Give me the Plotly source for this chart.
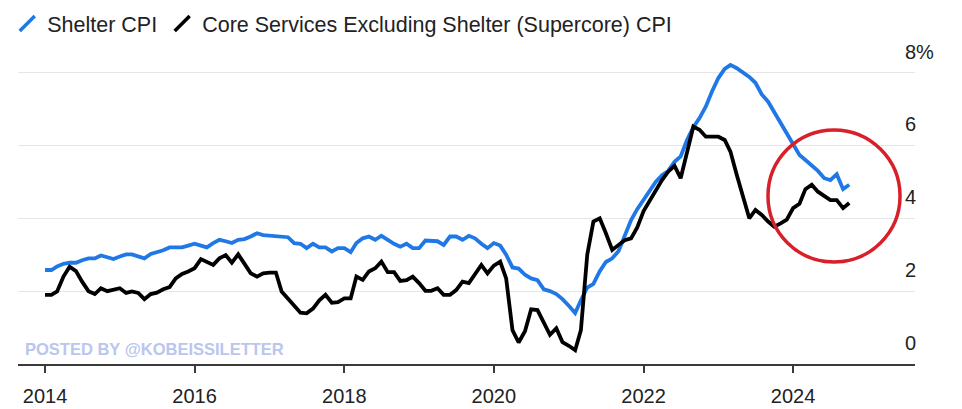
import pandas as pd
import plotly.graph_objects as go

# Monthly observations, Jan 2014 - Oct 2024
months = pd.date_range("2014-01-01", "2024-10-01", freq="MS")

shelter_cpi = [
    2.58, 2.58, 2.68, 2.75, 2.78, 2.78, 2.85, 2.90, 2.90, 2.98, 2.93, 2.88,
    2.95, 3.01, 3.01, 2.95, 2.90, 3.02, 3.07, 3.12, 3.20, 3.20, 3.20, 3.25,
    3.30, 3.25, 3.20, 3.32, 3.41, 3.37, 3.32, 3.41, 3.43, 3.50, 3.59, 3.54,
    3.52, 3.50, 3.50, 3.48, 3.32, 3.30, 3.18, 3.30, 3.20, 3.20, 3.09, 3.18,
    3.18, 3.07, 3.32, 3.45, 3.50, 3.41, 3.52, 3.40, 3.30, 3.22, 3.30, 3.18,
    3.18, 3.39, 3.39, 3.37, 3.27, 3.50, 3.50, 3.41, 3.52, 3.45, 3.30, 3.18,
    3.32, 3.25, 3.00, 2.65, 2.62, 2.45, 2.35, 2.30, 2.05, 2.00, 1.92, 1.78,
    1.60, 1.40, 1.75, 2.10, 2.20, 2.55, 2.80, 2.90, 3.10, 3.50, 3.95, 4.25,
    4.50, 4.75, 5.00, 5.18, 5.30, 5.55, 5.70, 6.15, 6.50, 6.75, 7.07, 7.48,
    7.85, 8.10, 8.21, 8.12, 8.00, 7.88, 7.72, 7.40, 7.20, 6.92, 6.65, 6.33,
    6.05, 5.74, 5.60, 5.46, 5.30, 5.10, 5.05, 5.21, 4.80, 4.92,
]

supercore_cpi = [
    1.90, 1.90, 1.99, 2.40, 2.67, 2.55, 2.26, 2.00, 1.92, 2.08, 2.00, 2.05,
    2.08, 1.95, 1.99, 1.95, 1.78, 1.92, 1.96, 2.05, 2.11, 2.35, 2.47, 2.54,
    2.63, 2.88, 2.80, 2.72, 2.90, 2.99, 2.78, 3.01, 2.75, 2.49, 2.40, 2.49,
    2.51, 2.51, 1.99, 1.80, 1.60, 1.41, 1.39, 1.52, 1.75, 1.90, 1.68, 1.70,
    1.80, 1.80, 2.40, 2.31, 2.54, 2.63, 2.81, 2.52, 2.52, 2.28, 2.30, 2.40,
    2.22, 2.01, 2.01, 2.08, 1.90, 1.90, 2.03, 2.26, 2.22, 2.45, 2.72, 2.49,
    2.70, 2.81, 2.35, 0.93, 0.59, 0.90, 1.50, 1.48, 1.12, 0.80, 0.98, 0.60,
    0.50, 0.38, 0.93, 3.00, 3.91, 4.00, 3.59, 3.13, 3.27, 3.40, 3.45, 3.75,
    4.20, 4.50, 4.80, 5.05, 5.28, 5.44, 5.10, 5.83, 6.52, 6.43, 6.24, 6.24,
    6.24, 6.15, 5.83, 5.19, 4.64, 4.00, 4.23, 4.09, 3.91, 3.77, 3.86, 3.96,
    4.28, 4.40, 4.80, 4.92, 4.73, 4.60, 4.50, 4.50, 4.28, 4.42,
]

series_names = ["Shelter CPI", "Core Services Excluding Shelter (Supercore) CPI"]
y_tickvals = [0, 2, 4, 6, 8]
y_ticktext = ["0", "2", "4", "6", "8%"]
x_tickvals = ["2014-01-01", "2016-01-01", "2018-01-01", "2020-01-01", "2022-01-01", "2024-01-01"]
x_ticktext = ["2014", "2016", "2018", "2020", "2022", "2024"]

BLUE = "#1f78e6"
BLACK = "#000000"
FONT = "Liberation Sans, Arial, Helvetica, sans-serif"

fig = go.Figure()

fig.add_trace(go.Scatter(x=months, y=shelter_cpi, mode="lines", name=series_names[0],
                         line=dict(color=BLUE, width=3.8), showlegend=False))
fig.add_trace(go.Scatter(x=months, y=supercore_cpi, mode="lines", name=series_names[1],
                         line=dict(color=BLACK, width=3.8), showlegend=False))

# legend entries with slanted-line icons
for name, col in zip(series_names, [BLUE, BLACK]):
    fig.add_trace(go.Scatter(x=[None], y=[None], mode="markers", name=name,
                             marker=dict(symbol="line-ne", size=15,
                                         line=dict(color=col, width=3.5))))

fig.update_layout(
    width=962, height=409,
    margin=dict(l=18, r=47, t=58, b=45, autoexpand=False),
    paper_bgcolor="white", plot_bgcolor="white",
    font=dict(family=FONT, color="#222222"),
    showlegend=True,
    legend=dict(orientation="h", x=-0.012, xanchor="left", y=1.18,
                yanchor="top", font=dict(size=21.5, color="#222222"),
                bgcolor="rgba(0,0,0,0)", itemwidth=30, traceorder="normal"),
    xaxis=dict(type="date", range=["2013-08-22", "2025-08-18"],
               tickvals=x_tickvals, ticktext=x_ticktext,
               showgrid=False, zeroline=False,
               showline=True, linecolor="#3a3a3a", linewidth=2,
               ticks="outside", ticklen=7, tickwidth=2, tickcolor="#3a3a3a",
               tickfont=dict(size=20, color="#222222"), ticklabelstandoff=6),
    yaxis=dict(range=[0, 8.4], side="right", tickvals=y_tickvals, ticktext=y_ticktext,
               showgrid=True, gridcolor="#e6e6e6", gridwidth=1, zeroline=False,
               showline=False, ticks="", ticklabelposition="outside",
               ticklabelstandoff=-11, ticklabelshift=-21,
               tickfont=dict(size=20, color="#222222")),
)

fig.add_annotation(text="<b>POSTED BY @KOBEISSILETTER</b>", xref="paper", yref="paper",
                   x=0.006, y=0.05, xanchor="left", yanchor="middle", showarrow=False,
                   font=dict(size=16.5, color="#b9c6ee", family=FONT))

fig.add_shape(type="circle", xref="paper", yref="paper",
              x0=0.8361, x1=0.9833, y0=0.3333, y1=0.7647,
              line=dict(color="#d8202a", width=3.5))

fig.write_html("out.html", config={"displayModeBar": False},
               post_script="document.body.style.margin='0px';")
